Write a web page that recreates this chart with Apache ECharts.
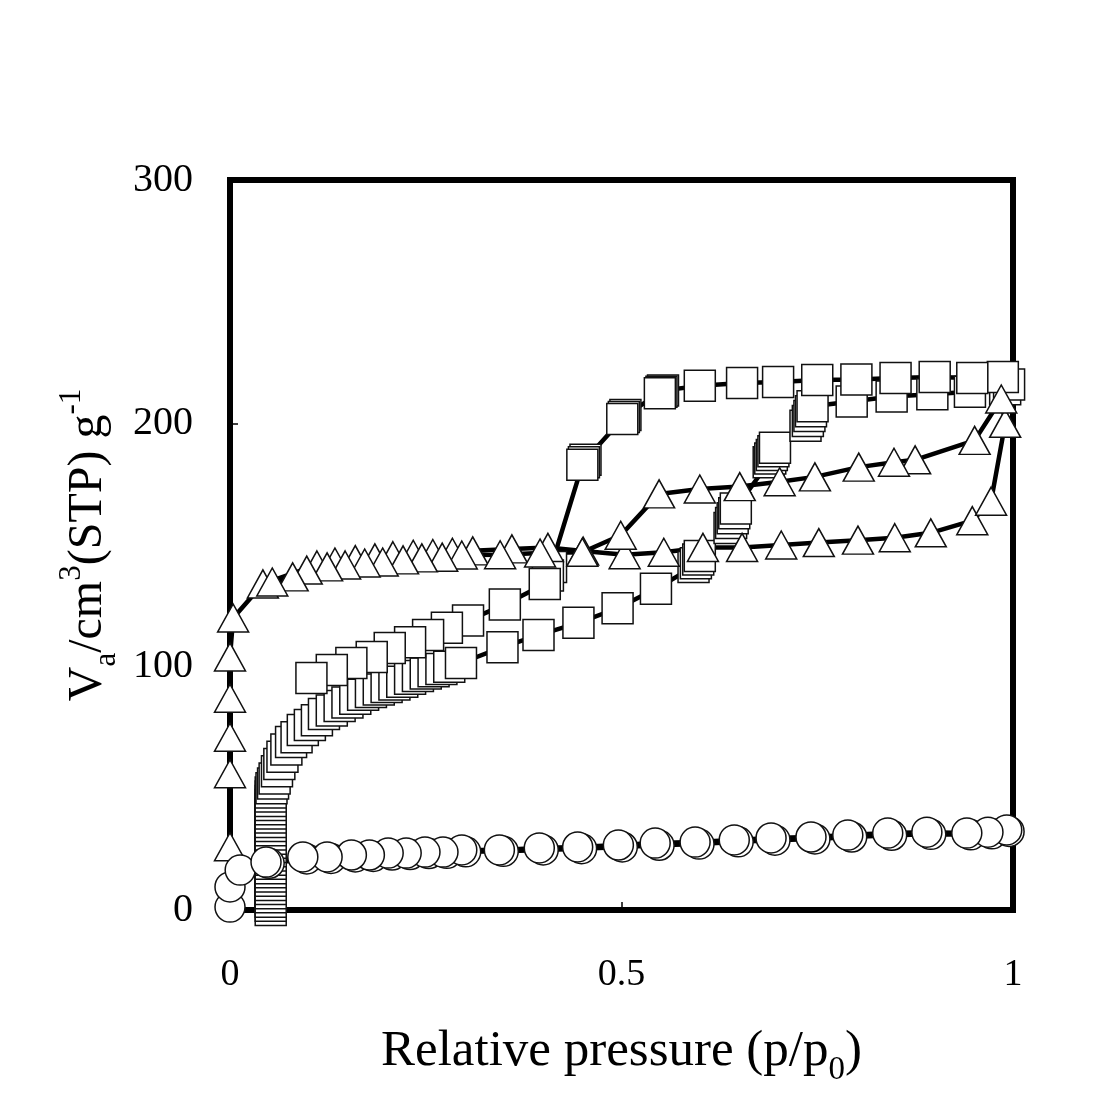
<!DOCTYPE html>
<html>
<head>
<meta charset="utf-8">
<script src="https://cdn.jsdelivr.net/npm/echarts@6/dist/echarts.min.js"></script>
<style>
  html, body { margin: 0; padding: 0; background: #fff; }
  #chart { width: 1104px; height: 1117px; }
</style>
</head>
<body>
<div id="chart"></div>
<script>
// axis ticks
const xTicks = [0, 0.5, 1]
const yTicks = [0, 100, 200, 300]

// squares: adsorption then desorption  [p/p0, Va]
const sqColumnY = [0, 1.7, 3.4, 5.2, 6.9, 8.6, 10.3, 12, 13.8, 15.5, 17.2, 19, 20.7, 22.4, 24.1,
  25.9, 27.6, 29.3, 31, 32.8, 34.5, 36.2, 38, 39.7, 41.4, 43.1, 44.8, 46.6, 48.3]
const sqAds = [
  [0.053, 50], [0.055, 52], [0.057, 54], [0.06, 57], [0.063, 60], [0.067, 63], [0.072, 66],
  [0.078, 69], [0.085, 71], [0.093, 74], [0.102, 76], [0.111, 78], [0.12, 80.5], [0.13, 82],
  [0.14, 83.8], [0.15, 85.3], [0.16, 86.8], [0.17, 88.5], [0.18, 89.6], [0.19, 90.6], [0.2, 91.6],
  [0.21, 92.7], [0.22, 93.8], [0.23, 95], [0.24, 96.2], [0.25, 97.2], [0.26, 98.1], [0.27, 99],
  [0.28, 100], [0.295, 101.5], [0.348, 108], [0.394, 113], [0.445, 118], [0.495, 124], [0.544, 132],
  [0.592, 141], [0.595, 142.5], [0.598, 144], [0.6, 145.5],
  [0.638, 157], [0.64, 159], [0.642, 161], [0.644, 163], [0.646, 165],
  [0.688, 184], [0.69, 185.5], [0.692, 187], [0.694, 188.5], [0.696, 190],
  [0.735, 199], [0.738, 201], [0.74, 203], [0.742, 205], [0.744, 207],
  [0.794, 209], [0.845, 211], [0.897, 212], [0.945, 213], [0.99, 214]
]
const sqDes = [
  [0.995, 216], [0.987, 219], [0.948, 218.6], [0.9, 219], [0.85, 218.6], [0.8, 218], [0.75, 217.8],
  [0.7, 217], [0.654, 216.6], [0.6, 215.4], [0.553, 213.5], [0.551, 213], [0.549, 212.4],
  [0.505, 203.4], [0.503, 202.6], [0.501, 201.8], [0.454, 185], [0.452, 184], [0.45, 183],
  [0.41, 141], [0.406, 137.5], [0.402, 134], [0.351, 125.5], [0.304, 119], [0.277, 116],
  [0.253, 113], [0.23, 110], [0.204, 107.7], [0.181, 104], [0.155, 101.5], [0.13, 98.6], [0.104, 95.3]
]

// triangles
const triAds = [
  [0, 26], [0, 56], [0, 71], [0, 87], [0, 104], [0.004, 120], [0.042, 134], [0.111, 141.8],
  [0.134, 143], [0.16, 144], [0.185, 144.7], [0.208, 145.6], [0.234, 146.2], [0.259, 146.5],
  [0.284, 147], [0.31, 147.6], [0.36, 148.4], [0.406, 149], [0.451, 147.5], [0.504, 146],
  [0.554, 147], [0.604, 149], [0.654, 149], [0.704, 150], [0.752, 151], [0.802, 152],
  [0.849, 153], [0.895, 155], [0.948, 160], [0.972, 168], [0.99, 200]
]
const triDes = [
  [0.985, 210], [0.951, 193], [0.875, 185], [0.848, 184], [0.803, 182], [0.747, 178], [0.702, 176],
  [0.651, 174], [0.6, 173], [0.548, 171], [0.499, 154], [0.45, 147], [0.396, 146.7], [0.345, 146],
  [0.296, 145.9], [0.271, 145], [0.245, 144.7], [0.221, 143.9], [0.195, 143], [0.172, 142.6],
  [0.147, 141.8], [0.124, 141], [0.098, 139.7], [0.08, 136.9], [0.054, 134.8]
]

// circles
const circAds = [
  [0, 1.2], [0, 9.5], [0.013, 16.4], [0.05, 19.2], [0.098, 21], [0.129, 21.2], [0.16, 21.8],
  [0.183, 22], [0.207, 22.6], [0.23, 22.8], [0.254, 23.2], [0.277, 23.3], [0.301, 23.9],
  [0.349, 24.1], [0.4, 24.7], [0.449, 25.2], [0.501, 25.9], [0.548, 26.6], [0.599, 27.1],
  [0.649, 28], [0.696, 28.7], [0.747, 29.2], [0.794, 30], [0.845, 30.7], [0.895, 31.1],
  [0.946, 30.9], [0.973, 31.3], [0.995, 32.3]
]
const circDes = [
  [0.992, 32.9], [0.968, 32], [0.941, 31.6], [0.89, 32], [0.84, 31.6], [0.789, 30.8], [0.742, 30],
  [0.691, 29.6], [0.644, 28.8], [0.594, 27.9], [0.543, 27.5], [0.496, 26.7], [0.444, 25.9],
  [0.395, 25.5], [0.344, 24.7], [0.296, 24.7], [0.272, 23.8], [0.249, 23.8], [0.225, 23.4],
  [0.202, 23.4], [0.178, 22.6], [0.155, 22.6], [0.124, 21.8], [0.093, 21.8], [0.046, 19.7]
]

const serif = '"Liberation Serif", "DejaVu Serif", serif'

const sqData = sqColumnY.map(y => [0.052, y]).concat(sqAds, sqDes)

function isotherm(name, data, symbol, size) {
  return {
    name,
    type: 'line',
    data,
    symbol,
    symbolSize: size,
    showAllSymbol: true,
    clip: false,
    animation: false,
    lineStyle: { color: '#000', width: 4.5 },
    itemStyle: { color: '#fff', borderColor: '#111', borderWidth: 1.5 },
    emphasis: { disabled: true },
  }
}

const chart = echarts.init(document.getElementById('chart'))

chart.setOption({
  backgroundColor: '#fff',
  textStyle: { fontFamily: serif, color: '#000' },
  grid: {
    left: 230,
    right: 91,
    top: 180,
    bottom: 207,
    show: true,
    borderColor: '#000',
    borderWidth: 6,
  },
  xAxis: {
    type: 'value',
    min: xTicks[0],
    max: xTicks[xTicks.length - 1],
    interval: 0.5,
    name: 'Relative pressure (p/p{sub|0})',
    nameLocation: 'middle',
    nameGap: 116,
    nameTextStyle: {
      fontFamily: serif,
      fontSize: 51,
      color: '#000',
      rich: {
        sub: { fontFamily: serif, fontSize: 33, verticalAlign: 'bottom', padding: [0, 0, -10, 0] }
      }
    },
    axisLine: { show: false },
    axisTick: { inside: true, length: 8, lineStyle: { color: '#000', width: 1.5 } },
    axisLabel: { margin: 46, fontFamily: serif, fontSize: 38, color: '#000' },
    splitLine: { show: false },
  },
  yAxis: {
    type: 'value',
    min: yTicks[0],
    max: yTicks[yTicks.length - 1],
    interval: 100,
    name: 'V{sub|a}/cm{sup|3}(STP) g{sup|-1}',
    nameLocation: 'middle',
    nameRotate: 90,
    nameGap: 112,
    nameTextStyle: {
      fontFamily: serif,
      fontSize: 48,
      color: '#000',
      rich: {
        sub: { fontFamily: serif, fontSize: 31, verticalAlign: 'bottom', padding: [0, 0, -10, 0] },
        sup: { fontFamily: serif, fontSize: 31, verticalAlign: 'top', padding: [-8, 0, 0, 0] }
      }
    },
    axisLine: { show: false },
    axisTick: { inside: true, length: 8, lineStyle: { color: '#000', width: 1.5 } },
    axisLabel: { margin: 37, fontFamily: serif, fontSize: 40, color: '#000' },
    splitLine: { show: false },
  },
  series: [
    isotherm('square', sqData, 'rect', 31),
    isotherm('triangle', triAds.concat(triDes), 'triangle', [31, 28]),
    isotherm('circle', circAds.concat(circDes), 'circle', 30),
  ],
})
</script>
</body>
</html>
